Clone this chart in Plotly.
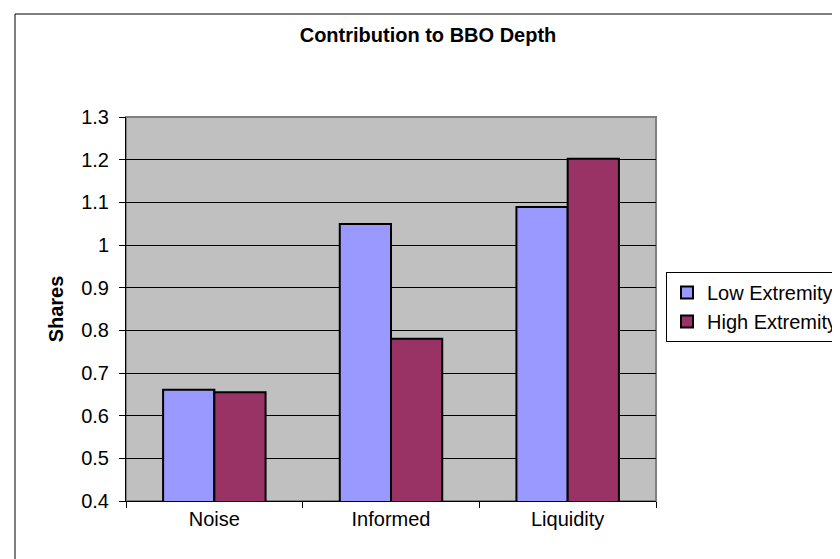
import plotly.graph_objects as go

categories = ["Noise", "Informed", "Liquidity"]
low_extremity = [0.661, 1.049, 1.089]
high_extremity = [0.655, 0.78, 1.202]
series_names = ["Low Extremity", "High Extremity"]
y_ticks = [0.4, 0.5, 0.6, 0.7, 0.8, 0.9, 1.0, 1.1, 1.2, 1.3]

FONT = "Liberation Sans, Arial, sans-serif"
W, H = 840, 559
L, R, T, B = 118, 192, 109, 66
pw, ph = W - L - R, H - T - B

fig = go.Figure()
fig.add_trace(go.Bar(x=categories, y=low_extremity, name=series_names[0], base=0,
                     marker=dict(color="#9999FF", line=dict(color="black", width=2))))
fig.add_trace(go.Bar(x=categories, y=high_extremity, name=series_names[1], base=0,
                     marker=dict(color="#993366", line=dict(color="black", width=2))))

fig.update_layout(
    width=W, height=H,
    margin=dict(l=L, r=R, t=T, b=B, autoexpand=False),
    paper_bgcolor="white", plot_bgcolor="#C0C0C0",
    barmode="group", bargap=0.42, bargroupgap=0,
    font=dict(family=FONT, size=20, color="black"),
    title=dict(text="<b>Contribution to BBO Depth</b>", x=0.5, xanchor="center",
               y=1 - 27 / H, yanchor="middle", font=dict(size=20)),
    legend=dict(x=(658 - L) / pw, y=(H - B - 264) / ph, xanchor="left", yanchor="top",
                bgcolor="white", bordercolor="black", borderwidth=1,
                font=dict(size=20), itemwidth=30, tracegroupgap=0),
    showlegend=True,
)
fig.update_xaxes(showline=True, linecolor="black", linewidth=1, ticks="outside",
                 ticklen=6, tickcolor="black", tickson="boundaries", showgrid=False,
                 tickfont=dict(size=20))
fig.update_yaxes(range=[0.4, 1.3], tickvals=y_ticks, showline=True, linecolor="black",
                 linewidth=1, ticks="outside", ticklen=6, tickcolor="black",
                 showgrid=True, gridcolor="black", gridwidth=1, zeroline=False,
                 tickfont=dict(size=20), ticklabelstandoff=6,
                 title=dict(text="<b>Shares</b>", font=dict(size=20), standoff=12))

# plot-area frame (gray top/right) and outer chart border
fig.add_shape(type="rect", xref="paper", yref="paper", x0=0, x1=1, y0=0, y1=1,
              line=dict(color="#808080", width=2), layer="below")
fig.add_shape(type="rect", xref="paper", yref="paper",
              x0=(7 - L) / pw, x1=(837 - L) / pw,
              y0=(H - B - 562) / ph, y1=(H - B - 6) / ph,
              line=dict(color="black", width=1))

fig.write_html("out.html")
